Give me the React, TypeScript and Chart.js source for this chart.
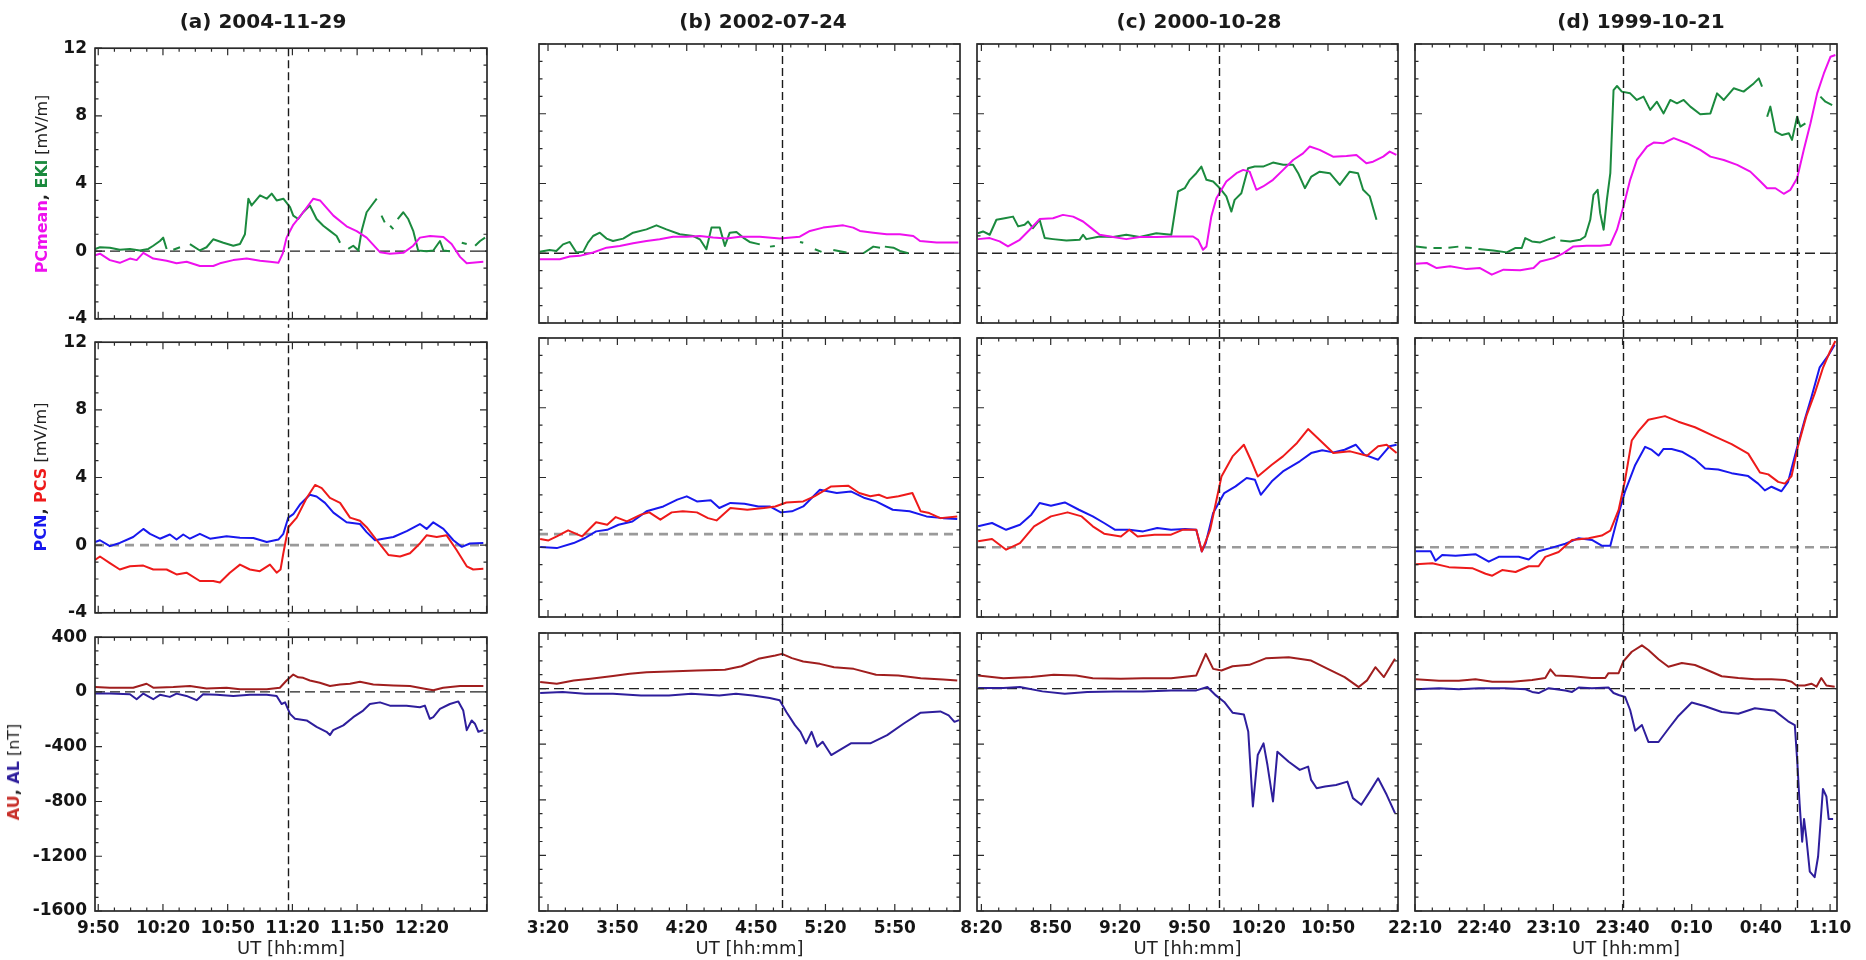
import React, { useEffect, useRef } from "react";
import { Chart, registerables } from "chart.js";

Chart.register(...registerables);

const FONT = '"DejaVu Sans", "Liberation Sans", Arial, sans-serif';

// ---------------- axis ranges / tick labels (minutes of day) ----------------
const aXRange = [588.5, 770.2];
const bXRange = [196.1, 378.2];
const cXRange = [498.1, 680.3];
const dXRange = [1330, 1513];
const aTickLabels = [590, 620, 650, 680, 710, 740];
const bTickLabels = [200, 230, 260, 290, 320, 350];
const cTickLabels = [500, 530, 560, 590, 620, 650];
const dTickLabels = [1330, 1360, 1390, 1420, 1450, 1480, 1510];
const aOnset = [678];
const bOnset = [301];
const cOnset = [603];
const dOnset = [1420, 1495.5];

const pcYRange = [-4, 12];
const pcYLabels = [-4, 0, 4, 8, 12];
const auYRange = [-1600, 400];
const auYLabels = [-1600, -1200, -800, -400, 0, 400];
const pcRefLevels = [0, 0.75, 0, 0];

const panelTitles = ["(a) 2004-11-29", "(b) 2002-07-24", "(c) 2000-10-28", "(d) 1999-10-21"];

// ---------------- (a) 2004-11-29 ----------------
const aPcmT = [588.5,590.8,595.4,600,604.7,607.8,610.9,615.5,621.7,626.3,631,637.1,643.3,646.4,652.6,658.8,665,669.6,673.5,675.5,677.3,680.4,685,689.7,692.8,699,705.1,709.8,714.4,720.6,725.2,731.4,736,739.1,743.8,750,753.8,757.7,760.8,768.5];
const aPcmV = [-0.25,-0.15,-0.53,-0.69,-0.44,-0.53,-0.1,-0.44,-0.57,-0.72,-0.63,-0.88,-0.88,-0.72,-0.53,-0.44,-0.57,-0.63,-0.69,-0.15,0.8,1.56,2.3,3.1,3.0,2.1,1.47,1.18,0.8,-0.06,-0.15,-0.1,0.32,0.8,0.9,0.84,0.42,-0.34,-0.72,-0.63];
const aEklT = [588.5,590.8,595.4,600,604.7,609.3,613.2,615.5,618.6,620.1,621.7,623,624.8,627.9,630,632.5,637.1,640.2,643.3,648,652.6,655.7,658,659.6,661.1,665,668.1,670.4,672.7,675.8,678.9,680.4,682.7,685,688.1,691.2,694.3,697.4,700.5,702.1,704,705.9,708.2,710.6,712.1,714.4,716.7,719.1,720,721.3,722.8,724,725.3,726.8,727.8,728.8,731.4,733.7,736,738.3,742.2,745.3,748.4,750,753,756,758.5,760.8,762.5,764.7,767,769.3];
const aEklV = [0.13,0.23,0.2,0.08,0.13,0.04,0.13,0.32,0.6,0.8,0.13,null,0.08,0.23,null,0.42,0.04,0.23,0.7,0.5,0.32,0.42,1.0,3.1,2.7,3.3,3.1,3.4,3.0,3.1,2.6,2.1,1.9,2.3,2.7,1.9,1.5,1.2,0.9,0.5,null,0.13,0.32,0.04,1.2,2.3,2.7,3.1,null,2.1,1.7,null,1.5,1.3,null,1.9,2.3,1.9,1.2,0.04,0.0,0.04,0.6,0.04,0.0,null,0.5,0.42,null,0.32,0.6,0.8];
const aPcnT = [588.5,590.8,595.4,600,606.2,610.9,614,618.6,623.2,626.3,629.4,632.5,637.1,641.8,649.5,655.7,661.9,668.1,673.5,675.8,678.1,680.4,683.5,688.1,691.2,695.1,699,705.1,711.3,714.4,718.3,722.1,726.8,733,739.1,742.2,745.3,750,754.6,758.5,762.3,768.5];
const aPcnV = [0.19,0.29,-0.06,0.13,0.48,0.96,0.67,0.38,0.63,0.33,0.63,0.38,0.67,0.38,0.52,0.44,0.42,0.19,0.33,0.67,1.63,1.83,2.4,2.98,2.88,2.5,1.92,1.35,1.25,0.77,0.29,0.38,0.48,0.83,1.25,0.96,1.35,0.96,0.29,-0.1,0.1,0.13];
const aPcsT = [588.5,590.8,595.4,600,604.7,610.9,615.5,621.7,626.3,630.9,637.1,643.3,646.4,651,655.7,660.3,664.9,669.6,672.7,674.5,675.8,678.1,682,686.6,690.5,693.6,697.4,702.1,706.7,711.3,714.4,719.1,724.5,729.9,734.5,739.1,742.2,746.9,751.5,756.1,760.8,763.8,768.5];
const aPcsV = [-0.87,-0.67,-1.06,-1.44,-1.25,-1.21,-1.44,-1.44,-1.73,-1.63,-2.12,-2.12,-2.21,-1.63,-1.15,-1.44,-1.54,-1.15,-1.63,-1.44,-0.48,1.06,1.63,2.79,3.56,3.37,2.79,2.5,1.63,1.44,1.06,0.29,-0.58,-0.67,-0.48,0.1,0.58,0.48,0.58,-0.29,-1.25,-1.44,-1.4];
const aAuT = [588.5,595.4,606.2,612.4,615.5,624.8,632.5,640.2,649.5,655.7,668.1,674.2,677.3,680.4,682.7,685,688.1,692.7,697.4,702,706.7,711.3,717.5,726.8,734.5,740.7,745.3,749.9,757.7,768.5];
const aAuV = [36,31,31,60,31,36,43,26,31,19,19,31,84,127,107,103,84,67,43,55,60,74,55,48,43,26,12,31,43,43];
const aAlT = [588.5,595.4,604.7,607.8,610.9,615.5,618.6,623.2,626.3,630.9,635.6,638.6,644.9,652.6,660.3,668.1,672.7,675,676.6,678.9,681.2,686.6,691.2,695.8,697.4,698.9,703.6,708.2,712.8,715.9,720.6,725.2,732.9,739.1,741.4,743.7,745.3,748.4,753,756.9,759.2,760.8,763.1,764.6,766.2,768.5];
const aAlV = [-12,-12,-17,-53,-12,-53,-21,-36,-12,-29,-60,-17,-21,-29,-21,-21,-29,-88,-76,-160,-196,-208,-255,-291,-315,-279,-244,-184,-136,-88,-76,-100,-100,-112,-100,-196,-184,-124,-88,-69,-136,-279,-208,-232,-291,-279];

// ---------------- (b) 2002-07-24 ----------------
const bPcmT = [196.4,205.1,209.4,213.7,219.5,225.3,231,236.8,242.6,248.3,254.1,259.9,265.7,271.4,277.2,283,291.6,300.3,308.9,313.3,319,327.7,332,334.9,340.7,346.5,352.2,358,360.9,368.1,377.5];
const bPcmV = [-0.34,-0.34,-0.19,-0.15,0.04,0.32,0.42,0.57,0.7,0.8,0.95,0.95,0.99,0.9,0.84,0.95,0.95,0.84,0.95,1.28,1.47,1.6,1.47,1.28,1.18,1.09,1.09,0.99,0.7,0.61,0.61];
const bEklT = [196.4,200.7,203.6,206.5,209.4,212.3,215.2,217.3,219.5,222.4,225.3,228.1,232.5,236.8,242.6,246.9,251.2,257,262.8,265.7,268.5,270.7,274.3,276.5,278.6,281.5,284.4,287.2,291.6,293,296,298.1,300,309,310.4,312,315.4,318.3,320.5,323.4,329.1,332,336.4,340.7,343.6,344.5,345.7,349.4,352.2,355.8];
const bEklV = [0.08,0.19,0.13,0.51,0.65,0.04,0.08,0.61,0.99,1.18,0.84,0.7,0.84,1.18,1.37,1.6,1.37,1.09,0.99,0.8,0.23,1.47,1.47,0.42,1.18,1.22,0.9,0.65,0.51,null,0.38,0.42,null,0.65,0.6,null,0.23,0.08,null,0.19,0.04,null,0.0,0.38,0.32,null,0.38,0.32,0.13,0.0];
const bPcnT = [196.6,203.8,211.1,216,220.8,225.6,230.5,236.5,242.6,249.9,255.9,260,264.4,270.4,274.1,278.9,285,291,295.9,300.7,305.5,310.4,317.6,324.9,331,337,341.9,349.1,356.4,363.7,370.9,377];
const bPcnV = [0.01,-0.05,0.24,0.53,0.91,1.0,1.29,1.48,2.06,2.34,2.73,2.92,2.63,2.69,2.25,2.54,2.5,2.34,2.34,2.0,2.06,2.34,3.3,3.11,3.2,2.82,2.63,2.15,2.06,1.77,1.67,1.62];
const bPcsT = [196.6,200.2,203.8,208.7,214.7,220.8,225.6,229.3,234.1,240.2,243.8,248.6,253.5,258.3,264.4,269.2,272.9,278.9,286.2,293.4,298.3,303.1,310.4,315.2,322.5,329.8,334.6,339.4,343.1,346.7,351.6,357.6,361.2,364.9,369.7,377];
const bPcsV = [0.47,0.39,0.62,0.97,0.62,1.43,1.29,1.73,1.48,1.87,2.0,1.58,2.0,2.06,2.0,1.67,1.54,2.25,2.15,2.25,2.34,2.57,2.63,2.92,3.49,3.53,3.11,2.92,3.01,2.82,2.92,3.11,2.06,1.96,1.67,1.77];
const bAuT = [196.6,203.8,211.1,218.4,228.1,235.3,242.6,252.3,264.4,276.5,283.7,291,298.3,301.2,305.5,310.4,317.6,323.7,332.2,341.9,351.5,361.2,370.9,377];
const bAuV = [47,35,59,71,90,106,118,123,130,135,161,214,238,250,219,195,178,154,142,99,95,75,66,59];
const bAlT = [196.6,206.3,216,228.1,240.2,252.3,262,274.1,281.3,288.6,295.9,300.2,303.1,306.8,309.2,311.6,314,316.4,318.8,322.5,326.1,331,339.4,346.7,353.9,361.2,369.7,373.3,375.8,377.8];
const bAlV = [-32,-25,-37,-37,-49,-49,-37,-49,-37,-49,-68,-84,-168,-263,-311,-394,-311,-418,-382,-478,-442,-394,-394,-335,-251,-173,-164,-192,-239,-227];

// ---------------- (c) 2000-10-28 ----------------
const cPcmT = [498.5,503.6,507.9,511.5,516.6,520.9,525.2,531,535.3,539.7,544,547.6,551.2,557,562.7,568.5,575.7,582.9,591.6,593.8,595.9,597.4,599.5,601.7,606,610.4,613.3,616.1,619,621.9,626.2,630.6,634.9,639.2,642.1,646.4,652.2,658,662.3,666.6,669.5,673.9,676.7,679.6];
const cPcmV = [0.81,0.87,0.68,0.39,0.77,1.35,1.96,2.01,2.2,2.1,1.82,1.44,1.06,0.93,0.81,0.93,0.93,0.96,0.96,0.77,0.2,0.39,2.1,3.16,4.11,4.59,4.78,4.68,3.64,3.83,4.21,4.78,5.35,5.73,6.12,5.93,5.54,5.58,5.64,5.16,5.25,5.54,5.83,5.64];
const cEklT = [498.5,500.7,503.6,506.5,510.1,513.7,515.9,518.7,520.2,522.3,525.2,527.4,531,536.8,542.5,544,545.4,551.2,557,562.7,568.5,575.7,582.2,585.1,588,590.2,593,595.2,597.4,600.3,603.2,606,608.2,609.6,612.5,615.4,618.3,621.9,626.2,630.6,634.9,637.1,640,642.8,646.4,650.8,655.1,659.4,663,665.2,668.1,671];
const cEklV = [1.15,1.25,1.06,1.92,2.01,2.1,1.54,1.63,1.82,1.44,1.92,0.87,0.81,0.73,0.77,1.06,0.81,0.96,0.93,1.06,0.93,1.15,1.06,3.54,3.73,4.21,4.59,4.97,4.21,4.11,3.73,3.26,2.39,3.06,3.44,4.87,4.97,4.97,5.2,5.07,5.07,4.59,3.73,4.4,4.68,4.59,3.92,4.68,4.59,3.64,3.26,1.92];
const cPcnT = [498.6,504.6,510.7,516.7,521.6,525.2,530.1,536.1,542.2,548.2,553.1,557.9,564,570,576.1,582.1,588.2,593,595.4,597.1,600.3,605.1,610,614.8,618.4,620.9,625.7,630.5,637.8,642.7,647.5,652.3,657.2,662,665.7,671.7,676.6,679.7];
const cPcnV = [1.2,1.39,1.0,1.29,1.87,2.54,2.38,2.57,2.15,1.77,1.39,1.0,1.0,0.91,1.1,1.0,1.04,1.0,-0.24,0.24,1.96,3.11,3.49,3.97,3.87,3.01,3.78,4.35,4.93,5.4,5.56,5.44,5.59,5.88,5.31,5.02,5.79,5.88];
const cPcsT = [498.6,504.6,510.7,516.7,522.8,530.1,537.3,543.4,548.2,553.1,560.4,564,567.6,574.9,582.1,587,593,595.4,599,603.9,608.7,613.6,617.2,619.6,625.7,630.5,636.6,641.4,646.3,652.3,659.6,666.9,671.7,675.4,679.7];
const cPcsV = [0.34,0.47,-0.14,0.24,1.2,1.77,2.0,1.77,1.2,0.78,0.62,1.0,0.62,0.72,0.72,1.0,1.0,-0.24,1.0,4.06,5.21,5.88,4.83,4.06,4.73,5.21,5.98,6.78,6.17,5.4,5.5,5.25,5.79,5.88,5.4];
const cAuT = [498.6,509.5,521.6,531.3,541,548.2,560.4,570,582.1,593,597.1,600.3,603.9,608.7,616,623.3,633,642.7,649.9,657.2,663.3,666.9,670.5,674.2,679];
const cAuV = [95,75,83,99,95,75,71,75,75,95,250,142,130,161,171,219,226,202,142,83,11,59,154,83,214];
const cAlT = [498.6,509.5,516.7,526.4,536.1,545.8,557.9,570,582.1,593,597.8,601.5,605.1,608.7,613.6,615.5,617.5,619.6,622.1,623.8,626.2,628.1,633,637.8,641.4,642.7,645.1,648.7,653.5,658.4,660.8,664.4,668.1,671.7,675.4,679];
const cAlV = [4,4,11,-20,-37,-25,-20,-20,-13,-13,11,-49,-96,-173,-187,-311,-848,-478,-394,-550,-812,-454,-526,-585,-561,-657,-717,-705,-693,-669,-788,-836,-741,-645,-764,-896];

// ---------------- (d) 1999-10-21 (minutes past midnight of the first day) ----------------
const dPcmT = [1330.4,1335.1,1339.4,1345.2,1352.4,1358.2,1363.3,1368.4,1375.6,1381.4,1384.3,1390.1,1394.4,1398.7,1404.5,1410.3,1414.7,1417.6,1420.4,1423.3,1426.2,1430.6,1433.5,1437.8,1442.2,1447.9,1453.7,1458.1,1463.9,1469.7,1475.4,1479.8,1482.7,1486.3,1489.9,1492.8,1495.7,1498.6,1501.5,1504.4,1507.3,1510.2,1512.3];
const dPcmV = [-0.6,-0.56,-0.85,-0.75,-0.91,-0.85,-1.23,-0.94,-0.98,-0.85,-0.47,-0.28,0.01,0.39,0.43,0.43,0.49,1.35,2.68,4.21,5.35,6.12,6.35,6.31,6.6,6.31,5.93,5.54,5.35,5.07,4.68,4.11,3.73,3.73,3.41,3.64,4.3,5.93,7.45,9.17,10.31,11.27,11.37];
const dEklT = [1330.4,1335.1,1336.5,1338,1341.6,1343,1344.5,1348.8,1350.3,1351.7,1354.6,1356,1357.5,1364,1369.8,1373.4,1376.3,1377.8,1380.7,1384.3,1387.2,1390.8,1391.8,1393,1397.3,1401.6,1403.8,1406,1407.4,1409.2,1410.3,1411.8,1413.2,1414.7,1416.1,1417.6,1419.7,1423.3,1426.2,1429.1,1432,1434.9,1437.8,1440.7,1443.6,1446.5,1449.4,1453.7,1458.1,1461,1463.9,1468.2,1472.5,1476.9,1479.1,1480.5,1481.5,1482.7,1484.1,1486.3,1489.2,1492.1,1493.5,1495.7,1497.1,1499.3,1502.9,1505.8,1508,1510.9];
const dEklV = [0.39,0.32,null,0.3,0.3,null,0.32,0.38,null,0.33,0.3,null,0.25,0.16,0.05,0.3,0.3,0.87,0.68,0.62,0.77,0.93,null,0.73,0.68,0.77,0.96,1.92,3.35,3.64,2.3,1.35,3.06,4.59,9.36,9.59,9.27,9.17,8.79,8.98,8.22,8.69,8.02,8.79,8.6,8.79,8.41,7.97,8.02,9.17,8.79,9.46,9.27,9.74,10.03,9.55,null,7.83,8.41,6.97,6.78,6.88,6.5,7.83,7.26,7.45,null,8.98,8.69,8.5];
const dPcnT = [1330.3,1336.8,1338.9,1341.8,1347.6,1356.2,1362,1366.3,1375,1379.3,1383.6,1389.4,1395.2,1401,1406.7,1411,1414.7,1418.3,1421.1,1425.5,1429.8,1432.7,1435.6,1437.7,1441.3,1445.7,1451.4,1455.8,1461.5,1467.3,1474.5,1478.8,1481.7,1484.6,1488.9,1491.8,1495.4,1499,1501.9,1505.5,1509.1,1512];
const dPcnV = [-0.23,-0.23,-0.77,-0.45,-0.49,-0.4,-0.83,-0.55,-0.55,-0.7,-0.23,-0.02,0.2,0.52,0.42,0.09,0.09,1.92,3.21,4.72,5.76,5.58,5.26,5.63,5.63,5.48,5.04,4.51,4.46,4.25,4.08,3.65,3.26,3.47,3.21,3.75,5.58,7.31,8.6,10.32,10.97,11.61];
const dPcsT = [1330.3,1337.5,1344.7,1354.8,1360.6,1363.5,1367.8,1373.6,1379.3,1383.6,1386.5,1392.3,1398.1,1405.3,1411,1414.7,1418.3,1421.1,1424,1426.9,1431.2,1438.4,1444.2,1451.4,1460.1,1467.3,1474.5,1479.6,1483.2,1487.5,1490.4,1493.3,1496.1,1499.7,1503.3,1507,1509.8,1512.3];
const dPcsV = [-0.98,-0.92,-1.14,-1.2,-1.52,-1.63,-1.31,-1.42,-1.09,-1.09,-0.55,-0.27,0.42,0.52,0.67,0.95,2.14,3.86,6.12,6.66,7.31,7.52,7.2,6.88,6.34,5.91,5.37,4.29,4.18,3.75,3.65,4.08,5.8,7.52,8.81,10.32,11.18,11.83];
const dAuT = [1330.3,1340.4,1349,1356.2,1363.5,1372.1,1380.8,1386.5,1388.7,1390.9,1398.1,1406.7,1412.5,1413.9,1418.3,1420.4,1424,1428.4,1431.2,1435.6,1439.9,1445.7,1451.4,1457.2,1463,1470.2,1477.4,1484.6,1490.4,1493.3,1495.4,1499,1501.9,1504.1,1506.2,1508.4,1512];
const dAuV = [67,57,57,67,49,49,62,76,138,95,89,76,76,111,111,197,265,311,278,211,157,184,170,130,89,76,67,67,62,49,22,22,35,14,76,22,14];
const dAlT = [1330.3,1340.4,1349,1357.7,1369.2,1377.9,1380.8,1383.6,1388,1395.2,1398.1,1401,1406.7,1413.9,1416.1,1418.3,1421.1,1423.3,1425.5,1428.4,1431.2,1435.6,1439.9,1444.3,1450,1455.8,1463,1470.2,1477.4,1486,1491.8,1494.7,1495.8,1496.8,1497.9,1498.7,1499.7,1501.2,1503.3,1504.8,1506.9,1508.4,1509.4,1511.3];
const dAlV = [-5,3,-5,3,3,-5,-24,-32,3,-14,-24,8,3,8,-32,-46,-60,-154,-303,-262,-384,-384,-289,-195,-100,-127,-168,-181,-141,-160,-235,-262,-533,-830,-1101,-938,-1073,-1316,-1357,-1208,-722,-776,-938,-938];

// ---------------- styles ----------------
const C_PCM = "#ee10ee";
const C_EKL = "#1b8a3e";
const C_PCN = "#1818ee";
const C_PCS = "#ee1a1a";
const C_AU = "#a01e1e";
const C_AL = "#2e1e9c";

// layout (pixels)
const COL_X = [[95, 487], [539, 960], [977, 1398], [1415, 1837]];
const ROW_Y = [[44, 323], [338, 617], [633, 911]];
const TITLE_X = [263, 763, 1199, 1641];

type Series = { t: number[]; v: (number | null)[]; color: string };
type ColSpec = { xRange: number[]; labels: number[]; onsets: number[]; rows: Series[][] };

const COLUMNS: ColSpec[] = [
  {
    xRange: aXRange, labels: aTickLabels, onsets: aOnset,
    rows: [
      [{ t: aPcmT, v: aPcmV, color: C_PCM }, { t: aEklT, v: aEklV, color: C_EKL }],
      [{ t: aPcsT, v: aPcsV, color: C_PCS }, { t: aPcnT, v: aPcnV, color: C_PCN }],
      [{ t: aAlT, v: aAlV, color: C_AL }, { t: aAuT, v: aAuV, color: C_AU }],
    ],
  },
  {
    xRange: bXRange, labels: bTickLabels, onsets: bOnset,
    rows: [
      [{ t: bPcmT, v: bPcmV, color: C_PCM }, { t: bEklT, v: bEklV, color: C_EKL }],
      [{ t: bPcsT, v: bPcsV, color: C_PCS }, { t: bPcnT, v: bPcnV, color: C_PCN }],
      [{ t: bAlT, v: bAlV, color: C_AL }, { t: bAuT, v: bAuV, color: C_AU }],
    ],
  },
  {
    xRange: cXRange, labels: cTickLabels, onsets: cOnset,
    rows: [
      [{ t: cPcmT, v: cPcmV, color: C_PCM }, { t: cEklT, v: cEklV, color: C_EKL }],
      [{ t: cPcsT, v: cPcsV, color: C_PCS }, { t: cPcnT, v: cPcnV, color: C_PCN }],
      [{ t: cAlT, v: cAlV, color: C_AL }, { t: cAuT, v: cAuV, color: C_AU }],
    ],
  },
  {
    xRange: dXRange, labels: dTickLabels, onsets: dOnset,
    rows: [
      [{ t: dPcmT, v: dPcmV, color: C_PCM }, { t: dEklT, v: dEklV, color: C_EKL }],
      [{ t: dPcsT, v: dPcsV, color: C_PCS }, { t: dPcnT, v: dPcnV, color: C_PCN }],
      [{ t: dAlT, v: dAlV, color: C_AL }, { t: dAuT, v: dAuV, color: C_AU }],
    ],
  },
];

const hhmm = (m: number) => {
  const mm = ((Math.round(m) % 1440) + 1440) % 1440;
  return `${Math.floor(mm / 60)}:${String(mm % 60).padStart(2, "0")}`;
};

function tickValues(min: number, max: number, anchor: number, step: number) {
  const out: number[] = [];
  let v = anchor - Math.floor((anchor - min) / step + 1e-9) * step;
  for (; v <= max + 1e-6; v += step) out.push(Math.round(v * 1000) / 1000);
  return out;
}
const isMultiple = (v: number, anchor: number, step: number) => {
  const q = (v - anchor) / step;
  return Math.abs(q - Math.round(q)) < 1e-6;
};

function Panel({ col, row }: { col: number; row: number }) {
  const ref = useRef<HTMLCanvasElement>(null);
  const spec = COLUMNS[col];
  const L = col === 0 ? 95 : 40;
  const R = col === 3 ? 1866 - COL_X[3][1] : 30;
  const T = 14;
  const B = row === 2 ? 960 - ROW_Y[2][1] : 14;
  const left = COL_X[col][0] - L;
  const top = ROW_Y[row][0] - T;
  const width = COL_X[col][1] - COL_X[col][0] + L + R;
  const height = ROW_Y[row][1] - ROW_Y[row][0] + T + B;

  useEffect(() => {
    const isAU = row === 2;
    const yRange = isAU ? auYRange : pcYRange;
    const yLabels = isAU ? auYLabels : pcYLabels;
    const yStep = isAU ? 100 : 1;
    const yMajor = isAU ? 400 : 4;
    const xAnchor = spec.labels[0];
    const xTicks = tickValues(spec.xRange[0], spec.xRange[1], xAnchor, 7.5);
    const yTicks = tickValues(yRange[0], yRange[1], 0, yStep);
    const refLevel = row === 1 ? pcRefLevels[col] : 0;
    const refStyle = row === 1
      ? { color: "#9a9a9a", width: 2.6, dash: [9, 6] }
      : { color: "#222", width: 1.3, dash: [10, 5] };
    const extTop = row === 0 ? 0 : 9;
    const extBottom = row === 2 ? 0 : 9;
    const showX = row === 2;
    const showY = col === 0;

    const frame = {
      id: "idlFrame",
      beforeDatasetsDraw(chart: any) {
        const { ctx, chartArea: ca, scales } = chart;
        const py = scales.y.getPixelForValue(refLevel);
        ctx.save();
        ctx.beginPath();
        ctx.rect(ca.left, ca.top, ca.right - ca.left, ca.bottom - ca.top);
        ctx.clip();
        ctx.setLineDash(refStyle.dash);
        ctx.strokeStyle = refStyle.color;
        ctx.lineWidth = refStyle.width;
        ctx.beginPath();
        ctx.moveTo(ca.left, py);
        ctx.lineTo(ca.right, py);
        ctx.stroke();
        ctx.restore();
      },
      afterDatasetsDraw(chart: any) {
        const { ctx, chartArea: ca, scales } = chart;
        const xs = scales.x, ys = scales.y;
        ctx.save();
        ctx.setLineDash([8, 4]);
        ctx.strokeStyle = "#1a1a1a";
        ctx.lineWidth = 1.4;
        for (const v of spec.onsets) {
          const px = Math.round(xs.getPixelForValue(v)) + 0.5;
          ctx.beginPath();
          ctx.moveTo(px, ca.top - extTop);
          ctx.lineTo(px, ca.bottom + extBottom);
          ctx.stroke();
        }
        ctx.setLineDash([]);
        ctx.strokeStyle = "#2a2a2a";
        ctx.lineWidth = 1.7;
        ctx.strokeRect(ca.left, ca.top, ca.right - ca.left, ca.bottom - ca.top);
        ctx.lineWidth = 1.2;
        ctx.beginPath();
        for (const t of xs.ticks) {
          const px = xs.getPixelForValue(t.value);
          const len = isMultiple(t.value, xAnchor, 30) ? 7 : 3.5;
          ctx.moveTo(px, ca.bottom); ctx.lineTo(px, ca.bottom - len);
          ctx.moveTo(px, ca.top); ctx.lineTo(px, ca.top + len);
        }
        for (const t of ys.ticks) {
          const py = ys.getPixelForValue(t.value);
          const len = isMultiple(t.value, 0, yMajor) ? 7 : 3.5;
          ctx.moveTo(ca.left, py); ctx.lineTo(ca.left + len, py);
          ctx.moveTo(ca.right, py); ctx.lineTo(ca.right - len, py);
        }
        ctx.stroke();
        ctx.restore();
      },
    };

    const chart = new Chart(ref.current as HTMLCanvasElement, {
      type: "line",
      data: {
        datasets: spec.rows[row].map((s) => ({
          data: s.t.map((t, i) => ({ x: t, y: s.v[i] })),
          borderColor: s.color,
          backgroundColor: s.color,
          borderWidth: 2,
          pointRadius: 0,
          fill: false,
          tension: 0,
          spanGaps: false,
          borderJoinStyle: "round",
        })),
      },
      options: {
        responsive: false,
        animation: false,
        events: [],
        layout: { padding: { top: T, right: R, left: 0, bottom: 0 } },
        plugins: { legend: { display: false }, tooltip: { enabled: false }, title: { display: false } },
        scales: {
          x: {
            type: "linear",
            min: spec.xRange[0],
            max: spec.xRange[1],
            grid: { display: false, drawTicks: false },
            border: { display: false },
            afterBuildTicks: (s: any) => { s.ticks = xTicks.map((v) => ({ value: v })); },
            afterFit: (s: any) => { s.height = B; },
            ticks: {
              display: showX,
              autoSkip: false,
              maxRotation: 0,
              minRotation: 0,
              padding: 7,
              color: "#151515",
              font: { family: FONT, size: 17, weight: "bold" },
              callback: (v: any) => (spec.labels.includes(Number(v)) ? hhmm(Number(v)) : ""),
            },
            title: {
              display: showX,
              text: "UT [hh:mm]",
              color: "#222",
              font: { family: FONT, size: 18 },
              padding: { top: 0, bottom: 0 },
            },
          },
          y: {
            type: "linear",
            min: yRange[0],
            max: yRange[1],
            grid: { display: false, drawTicks: false },
            border: { display: false },
            afterBuildTicks: (s: any) => { s.ticks = yTicks.map((v) => ({ value: v })); },
            afterFit: (s: any) => { s.width = L; },
            ticks: {
              display: showY,
              autoSkip: false,
              padding: 8,
              color: "#151515",
              font: { family: FONT, size: 17, weight: "bold" },
              callback: (v: any) => (yLabels.includes(Number(v)) ? String(v) : ""),
            },
          },
        },
      } as any,
      plugins: [frame],
    });
    return () => chart.destroy();
  }, []);

  return (
    <canvas
      ref={ref}
      width={width}
      height={height}
      style={{ position: "absolute", left, top, width, height }}
    />
  );
}

function YTitle({ x, y, children }: { x: number; y: number; children: React.ReactNode }) {
  return (
    <div
      style={{
        position: "absolute",
        left: x,
        top: y,
        transform: "translate(-50%, -50%) rotate(-90deg)",
        whiteSpace: "nowrap",
        fontSize: 16,
        lineHeight: "18px",
        color: "#222",
      }}
    >
      {children}
    </div>
  );
}

export default function App() {
  const panels = [];
  for (let c = 0; c < 4; c++) for (let r = 0; r < 3; r++) panels.push(<Panel key={`${c}-${r}`} col={c} row={r} />);
  return (
    <div
      style={{
        position: "absolute",
        left: 0,
        top: 0,
        width: 1866,
        height: 960,
        background: "#fff",
        overflow: "hidden",
        fontFamily: FONT,
      }}
    >
      {panels}
      {panelTitles.map((t, i) => (
        <div
          key={t}
          style={{
            position: "absolute",
            left: TITLE_X[i],
            top: 21,
            transform: "translate(-50%, -50%)",
            fontWeight: "bold",
            fontSize: 20,
            lineHeight: "22px",
            whiteSpace: "nowrap",
            color: "#1a1a1a",
          }}
        >
          {t}
        </div>
      ))}
      <YTitle x={42} y={184}>
        <b style={{ color: C_PCM }}>PCmean</b>
        <b>, </b>
        <b style={{ color: C_EKL }}>EKl</b>
        <span> [mV/m]</span>
      </YTitle>
      <YTitle x={41} y={477}>
        <b style={{ color: C_PCN }}>PCN</b>
        <b>, </b>
        <b style={{ color: C_PCS }}>PCS</b>
        <span> [mV/m]</span>
      </YTitle>
      <YTitle x={14} y={772}>
        <b style={{ color: "#c8302a" }}>AU</b>
        <b>, </b>
        <b style={{ color: C_AL }}>AL</b>
        <span> [nT]</span>
      </YTitle>
    </div>
  );
}
